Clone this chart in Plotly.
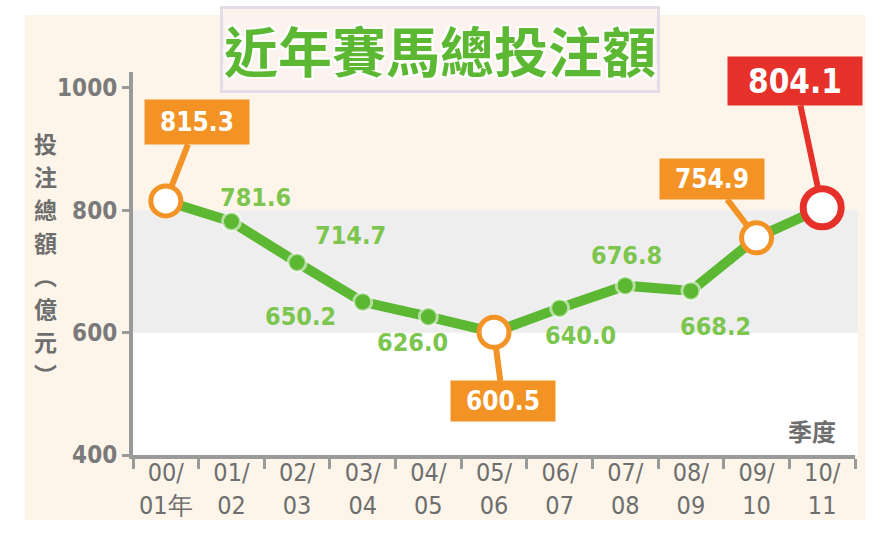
import plotly.graph_objects as go

# 年度 (x categories) and labels shown under the axis
seasons = ["00/01", "01/02", "02/03", "03/04", "04/05", "05/06",
           "06/07", "07/08", "08/09", "09/10", "10/11"]
tick_labels = ["00/<br>01年", "01/<br>02", "02/<br>03", "03/<br>04", "04/<br>05",
               "05/<br>06", "06/<br>07", "07/<br>08", "08/<br>09", "09/<br>10", "10/<br>11"]
# 投注總額 (億元)
turnover = [815.3, 781.6, 714.7, 650.2, 626.0, 600.5, 640.0, 676.8, 668.2, 754.9, 804.1]
y_ticks = [400, 600, 800, 1000]
y_title_chars = ["投", "注", "總", "額", "︵", "億", "元", "︶"]

GREEN = "#5cb832"
GREEN_TXT = "#7cc64f"
ORANGE = "#f39325"
RED = "#e5312a"
GREY = "#9a9a9a"
CREAM = "#fdf5ea"
NUM_FONT = "Liberation Sans Narrow, DejaVu Sans Condensed, Liberation Sans"
CJK_FONT = "Noto Sans CJK TC, Noto Sans CJK SC, sans-serif"

# green value labels: pixel shift (x, y-up) from the point
green_shift = {1: (24, 24), 2: (53, 27), 3: (-62, -15), 4: (-16, -26),
               6: (21, -27), 7: (1, 30), 8: (25, -36)}
# callout boxes: pixel offset of box centre, colour, box size, font size
callouts = {0: (31, -79, ORANGE, 100, 40, 26),
            5: (9, 69, ORANGE, 100, 36, 26),
            9: (-45, -59, ORANGE, 100, 36, 26),
            10: (-27, -127, RED, 130, 44, 33)}

fig = go.Figure()

# main line
fig.add_trace(go.Scatter(
    x=seasons, y=turnover, mode="lines+markers",
    line=dict(color=GREEN, width=10),
    marker=dict(size=18, color=GREEN, line=dict(color="rgba(255,255,255,0.55)", width=3)),
    hoverinfo="x+y", showlegend=False))

# highlighted open circles
for i, (ax, ay, col, w, h, fs) in callouts.items():
    big = col == RED
    fig.add_trace(go.Scatter(
        x=[seasons[i]], y=[turnover[i]], mode="markers",
        marker=dict(size=38 if big else 30, color="white",
                    line=dict(color=col, width=7 if big else 5)),
        hoverinfo="x+y", showlegend=False))
    fig.add_annotation(
        x=seasons[i], y=turnover[i], ax=ax, ay=ay,
        text="<b>%.1f</b>" % turnover[i], showarrow=True,
        arrowhead=0, arrowwidth=6, arrowcolor=col, standoff=17 if big else 14,
        bgcolor=col, width=w, height=h, borderpad=2,
        font=dict(family=NUM_FONT, size=fs, color="white"))

for i, (dx, dy) in green_shift.items():
    fig.add_annotation(
        x=seasons[i], y=turnover[i], text="<b>%.1f</b>" % turnover[i],
        showarrow=False, xshift=dx, yshift=dy,
        font=dict(family=NUM_FONT, size=25, color=GREEN_TXT))

# title
fig.add_annotation(
    xref="paper", yref="paper", x=0.425, y=1.058, xanchor="center", yanchor="middle",
    text="近年賽馬總投注額", showarrow=False,
    bgcolor="#fcf3ef", bordercolor="#e4dde8", borderwidth=3, borderpad=1,
    font=dict(family=CJK_FONT, size=54, color=GREEN, weight="bold",
              shadow="2px 2px 0 white, -2px -2px 0 white, 2px -2px 0 white, -2px 2px 0 white"))

# y axis title, one character per row
for k, ch in enumerate(y_title_chars):
    fig.add_annotation(
        xref="paper", yref="paper", x=-0.121, y=0.514, xanchor="center", yanchor="middle",
        yshift=-(k - 3.5) * 33, text=ch, showarrow=False,
        font=dict(family=CJK_FONT, size=23, color="#6e6e6e", weight="bold"))

fig.add_annotation(
    xref="paper", yref="paper", x=0.94, y=0.063, xanchor="center", yanchor="middle",
    text="季度", showarrow=False,
    font=dict(family=CJK_FONT, size=24, color="#6e6e6e", weight="bold"))

# cream card behind everything, grey and white bands in the plot
fig.add_shape(type="rect", xref="paper", yref="paper", x0=-0.15, x1=1.015, y0=-0.17, y1=1.149,
              fillcolor=CREAM, line_width=0, layer="below")
fig.add_shape(type="rect", xref="paper", yref="y", x0=0, x1=1.004, y0=400, y1=600,
              fillcolor="white", line_width=0, layer="below")
fig.add_shape(type="rect", xref="paper", yref="y", x0=0, x1=1.004, y0=600, y1=800,
              fillcolor="#efeeee", line_width=0, layer="below")

fig.update_xaxes(
    type="category", range=[-0.5, len(seasons) - 0.5],
    tickvals=seasons, ticktext=tick_labels, tickson="boundaries",
    showline=True, linecolor=GREY, linewidth=4, ticks="outside", ticklen=10,
    tickwidth=3, tickcolor=GREY, showgrid=False, zeroline=False, ticklabelstandoff=-8,
    tickfont=dict(family=NUM_FONT, size=25, color="#6e6e6e"))
fig.update_yaxes(
    range=[400, 1026], tickvals=y_ticks, showline=True, linecolor=GREY, linewidth=4,
    ticks="outside", ticklen=7, tickwidth=3, tickcolor=GREY, showgrid=False,
    zeroline=False, tickfont=dict(family=NUM_FONT, size=24, color="#7a7a7a", weight="bold"))

fig.update_layout(
    width=892, height=540,
    margin=dict(l=133, r=37, t=72, b=85),
    paper_bgcolor="white", plot_bgcolor="rgba(0,0,0,0)",
    showlegend=False)

fig.write_html("out.html", config={"displayModeBar": False},
               post_script="document.body.style.margin='0';")
